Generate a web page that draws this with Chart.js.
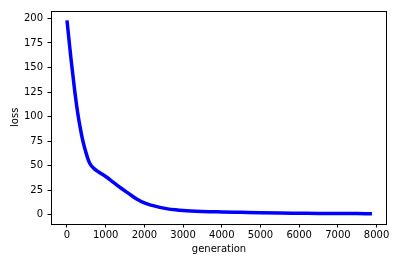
<!DOCTYPE html>
<html>
<head>
<meta charset="utf-8">
<script src="https://cdn.jsdelivr.net/npm/chart.js@4/dist/chart.umd.min.js"></script>
<style>
html,body{margin:0;padding:0;background:#fff;}
#wrap{width:401px;height:260px;position:relative;}
</style>
</head>
<body>
<div id="wrap"><canvas id="c" width="401" height="260"></canvas></div>
<script>
const generations = [0,100,200,250,300,350,400,450,500,550,600,700,800,900,1000,1200,1400,1600,1800,2000,2200,2400,2600,2800,3000,3500,4000,4500,5000,5500,6000,6500,7000,7500,7880];
const loss = [198,160,126,111,98,87,77,69,62,56,51.5,47,44,41.5,39,33,27,21.5,16,12,9.5,7.5,6,5,4.3,3.4,2.9,2.5,2.1,1.8,1.6,1.4,1.3,1.2,1.1];
const xTicks = [0,1000,2000,3000,4000,5000,6000,7000,8000];
const yTicks = [0,25,50,75,100,125,150,175,200];

const FONT = {family:'"DejaVu Sans", sans-serif', size:10};

const frame = {
  id:'frame',
  afterDraw(chart){
    const {ctx, chartArea:a} = chart;
    ctx.save();
    ctx.strokeStyle = '#000';
    ctx.lineWidth = 1;
    ctx.strokeRect(Math.round(a.left)+0.5, Math.round(a.top)+0.5, Math.round(a.right-a.left)-1, Math.round(a.bottom-a.top)-1);
    ctx.restore();
  }
};

new Chart(document.getElementById('c'), {
  type:'line',
  data:{
    datasets:[{
      data: generations.map((g,i)=>({x:g,y:loss[i]})),
      borderColor:'#0000ff',
      borderWidth:3.5,
      pointRadius:0,
      fill:false,
      cubicInterpolationMode:'monotone',
      borderCapStyle:'butt'
    }]
  },
  options:{
    responsive:false,
    animation:false,
    devicePixelRatio:1,
    layout:{padding:{top:6,right:14,left:0,bottom:0}},
    plugins:{legend:{display:false},tooltip:{enabled:false}},
    scales:{
      x:{
        type:'linear',
        min:-413, max:8269,
        afterBuildTicks: ax => { ax.ticks = xTicks.map(v=>({value:v})); },
        afterFit: ax => { ax.height = 36; },
        grid:{drawOnChartArea:false, drawTicks:true, tickLength:3.5, tickColor:'#000', tickWidth:1},
        border:{display:false},
        ticks:{color:'#000', font:FONT, padding:2, maxRotation:0, autoSkip:false, callback:v=>String(v)},
        title:{display:true, text:'generation', color:'#000', font:FONT, padding:{top:0,bottom:4.5}}
      },
      y:{
        type:'linear',
        min:-9.4, max:208,
        afterBuildTicks: ax => { ax.ticks = yTicks.map(v=>({value:v})); },
        afterFit: ax => { ax.width = 51; },
        grid:{drawOnChartArea:false, drawTicks:true, tickLength:3.5, tickColor:'#000', tickWidth:1},
        border:{display:false},
        ticks:{color:'#000', font:FONT, padding:4.5, autoSkip:false, callback:v=>String(v)},
        title:{display:true, text:'loss', color:'#000', font:FONT, padding:{top:9.5,bottom:0}}
      }
    }
  },
  plugins:[frame]
});
</script>
</body>
</html>
